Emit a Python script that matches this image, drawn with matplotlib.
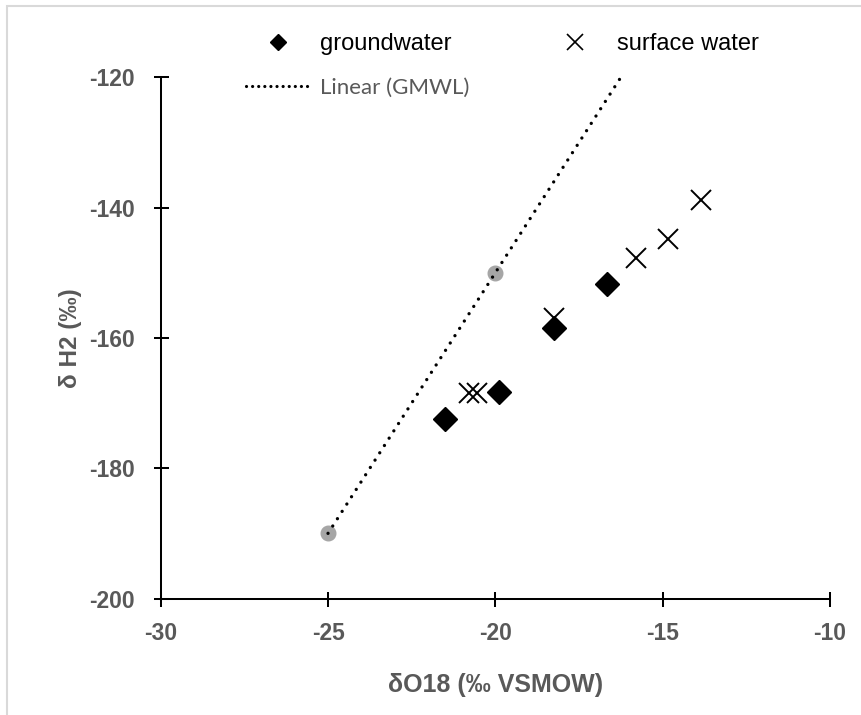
import numpy as np
import matplotlib.pyplot as plt
from matplotlib.lines import Line2D
from matplotlib.patches import Rectangle
plt.switch_backend('Agg')
plt.rcParams['axes.unicode_minus'] = False

# groundwater samples
gw_o18 = [-21.5, -19.9, -18.25, -16.65]
gw_h2 = [-172.5, -168.3, -158.5, -151.8]

# surface water samples
sw_o18 = [-20.8, -20.55, -18.25, -15.8, -14.85, -13.85]
sw_h2 = [-168.5, -168.5, -157.0, -147.8, -144.8, -138.9]

# global meteoric water line points + trendline extent
gmwl_o18 = [-25, -20]
gmwl_h2 = [-190, -150]
trend_range = [-25, -16.25]

x_ticks = [-30, -25, -20, -15, -10]
y_ticks = [-200, -180, -160, -140, -120]

GREY = '#595959'
W, H = 861, 715

fig = plt.figure(figsize=(W / 100, H / 100), dpi=100)
fig.patches.append(Rectangle((6.5 / W, -0.1), 1.2, 1.1 - 6.5 / H, transform=fig.transFigure,
                             fill=False, edgecolor='#d9d9d9', linewidth=1.5, zorder=0))

ax = fig.add_axes([160.7 / W, (H - 598.5) / H, (830 - 160.7) / W, (598.5 - 77.3) / H])

# trendline: least squares fit through the GMWL points
slope, icpt = np.polyfit(gmwl_o18, gmwl_h2, 1)
tx = np.array(trend_range)
ax.plot(tx, slope * tx + icpt, color='black', linewidth=2.4, linestyle=(0, (0.01, 2.6)),
        dash_capstyle='round', zorder=2)
ax.plot(gmwl_o18, gmwl_h2, 'o', color='#a6a6a6', markersize=10.5, zorder=1)

ax.plot(sw_o18, sw_h2, 'x', color='black', markersize=15, markeredgewidth=1.4, linestyle='none', zorder=3)
ax.plot(gw_o18, gw_h2, 'D', color='black', markersize=11.8, linestyle='none', zorder=4)

ax.set_xlim(-30, -10)
ax.set_ylim(-200, -120)
ax.set_xticks(x_ticks)
ax.set_yticks(y_ticks)
for s in ['top', 'right']:
    ax.spines[s].set_visible(False)
for s in ['left', 'bottom']:
    ax.spines[s].set_linewidth(1.45)
ax.tick_params(direction='inout', length=10.8, width=1.45, labelsize=16.5, labelcolor=GREY)
ax.tick_params(axis='x', pad=11.5)
ax.tick_params(axis='y', pad=13)
for lab in ax.get_xticklabels() + ax.get_yticklabels():
    lab.set_fontweight('bold')
    lab.set_family('Liberation Sans')

ax.set_xlabel('δO18 (‰ VSMOW)', fontsize=18, fontweight='bold', color=GREY, family='Liberation Sans')
ax.xaxis.set_label_coords(0.5, (598.5 - 685) / 521.2)
ax.xaxis.label.set_va('center')
ax.set_ylabel('δ H2 (‰)', fontsize=17.5, fontweight='bold', color=GREY, family='Liberation Sans')
ax.yaxis.set_label_coords((70 - 160.7) / 669.3, 0.5)
ax.yaxis.label.set_va('center')

handles = [
    Line2D([], [], marker='D', color='black', markersize=8.5, linestyle='none'),
    Line2D([], [], color='black', linewidth=2.3, linestyle=(0, (0.01, 1.9)), dash_capstyle='round'),
    Line2D([], [], marker='x', color='black', markersize=12, markeredgewidth=1.2, linestyle='none'),
]
labels = ['groundwater', 'Linear (GMWL)', 'surface water']
leg = fig.legend(handles, labels, ncol=2, loc='upper left', bbox_to_anchor=(246 / W, 1 - 33 / H),
                 frameon=False, borderpad=0, borderaxespad=0, handlelength=2.7, handletextpad=0.45,
                 columnspacing=3.1, labelspacing=0.95, prop={'family': 'Liberation Sans', 'size': 17})
texts = leg.get_texts()
texts[1].set_color(GREY)
texts[1].set_family('Lato')
texts[1].set_fontsize(16)

fig.savefig('out.png', dpi=100, facecolor='white')
